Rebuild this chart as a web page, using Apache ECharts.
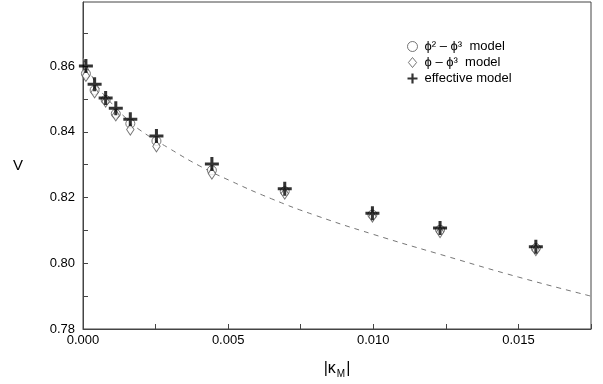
<!DOCTYPE html>
<html>
<head>
<meta charset="utf-8">
<script src="https://cdn.jsdelivr.net/npm/echarts@6/dist/echarts.min.js"></script>
<style>html,body{margin:0;padding:0;background:#fff}#c{width:603px;height:384px}</style>
</head>
<body>
<div id="c"></div>
<script>
var kappa = [0.0001, 0.0004, 0.00078, 0.00113, 0.00163, 0.00253, 0.00444, 0.00695, 0.00997, 0.0123, 0.0156];
var vPhi2Phi3 = [0.8577, 0.8527, 0.8497, 0.8455, 0.8425, 0.8372, 0.8283, 0.8219, 0.8148, 0.8102, 0.8046];
var vPhiPhi3 = [0.8570, 0.8520, 0.8492, 0.8450, 0.8407, 0.8356, 0.8273, 0.8212, 0.8142, 0.8095, 0.8040];
var vEffective = [0.8600, 0.8545, 0.8503, 0.8472, 0.8438, 0.8387, 0.8302, 0.8227, 0.8152, 0.8107, 0.8050];
var curveX = [0, 0.0005, 0.001, 0.0015, 0.002, 0.003, 0.004, 0.005, 0.0065, 0.008, 0.010, 0.0125, 0.015, 0.0175];
var curveY = [0.8625, 0.8540, 0.8485, 0.8440, 0.8403, 0.8348, 0.8297, 0.8254, 0.8196, 0.8146, 0.8088, 0.8022, 0.7958, 0.7900];
var legendNames = ['\u03d5\u00b2 \u2013 \u03d5\u00b3  model', '\u03d5 \u2013 \u03d5\u00b3  model', 'effective model'];

function pairs(xs, ys) { return xs.map(function (x, i) { return [x, ys[i]]; }); }
var font = 'Liberation Sans, Arial, Helvetica, sans-serif';
var plusPath = 'path://M4.7,0h2.6v4.7h4.7v2.6h-4.7v4.7h-2.6v-4.7h-4.7v-2.6h4.7z';
var diamondPath = 'path://M4.5,0L9,5.5L4.5,11L0,5.5Z';

var chart = echarts.init(document.getElementById('c'));
chart.setOption({
  animation: false,
  backgroundColor: '#fff',
  grid: { left: 83, right: 12, top: 2, bottom: 51, show: true, borderColor: '#444', borderWidth: 1, containLabel: false },
  legend: {
    orient: 'vertical', left: 402, top: 35, itemWidth: 14, itemHeight: 10, itemGap: 3,
    itemStyle: { borderWidth: 1 },
    textStyle: { fontFamily: font, fontSize: 13, color: '#000' },
    data: legendNames
  },
  xAxis: {
    type: 'value', min: 0, max: 0.0175, interval: 0.0025,
    name: '{a||\u03ba}{s|M}{a||}', nameLocation: 'middle', nameGap: 30,
    nameTextStyle: { fontFamily: font, color: '#000', rich: {
      a: { fontFamily: font, fontSize: 16, color: '#000' },
      s: { fontFamily: font, fontSize: 10, color: '#000', padding: [10, 1, 0, 1] } } },
    axisLine: { lineStyle: { color: '#444', width: 1 } },
    axisTick: { inside: true, length: 5, lineStyle: { color: '#444' } },
    splitLine: { show: false },
    axisLabel: { margin: 5, fontFamily: font, fontSize: 13, color: '#000',
      formatter: function (v) { var k = v / 0.005; return Math.abs(k - Math.round(k)) < 1e-6 ? v.toFixed(3) : ''; } }
  },
  yAxis: {
    type: 'value', min: 0.78, max: 0.8795, interval: 0.01,
    name: 'V', nameLocation: 'middle', nameGap: 60, nameRotate: 0,
    nameTextStyle: { fontFamily: font, fontSize: 15, color: '#000' },
    axisLine: { lineStyle: { color: '#444', width: 1 } },
    axisTick: { inside: true, length: 5, lineStyle: { color: '#444' } },
    splitLine: { show: false },
    axisLabel: { margin: 8, fontFamily: font, fontSize: 13, color: '#000', showMaxLabel: false,
      formatter: function (v) { var k = v / 0.02; return Math.abs(k - Math.round(k)) < 1e-6 ? v.toFixed(2) : ''; } }
  },
  series: [
    { type: 'line', data: pairs(curveX, curveY), smooth: true, showSymbol: false, silent: true,
      lineStyle: { color: '#777', width: 1, type: [5, 5] }, z: 1 },
    { name: legendNames[0], type: 'scatter', data: pairs(kappa, vPhi2Phi3), symbol: 'circle', symbolSize: 9,
      itemStyle: { color: '#fff', borderColor: '#555', borderWidth: 1 }, z: 2 },
    { name: legendNames[1], type: 'scatter', data: pairs(kappa, vPhiPhi3), symbol: diamondPath, symbolSize: [9, 11],
      symbolKeepAspect: true,
      itemStyle: { color: '#fff', borderColor: '#555', borderWidth: 1 }, z: 3 },
    { name: legendNames[2], type: 'scatter', data: pairs(kappa, vEffective), symbol: plusPath, symbolSize: 14,
      symbolKeepAspect: true,
      itemStyle: { color: '#000' }, z: 4 }
  ]
});
</script>
</body>
</html>
